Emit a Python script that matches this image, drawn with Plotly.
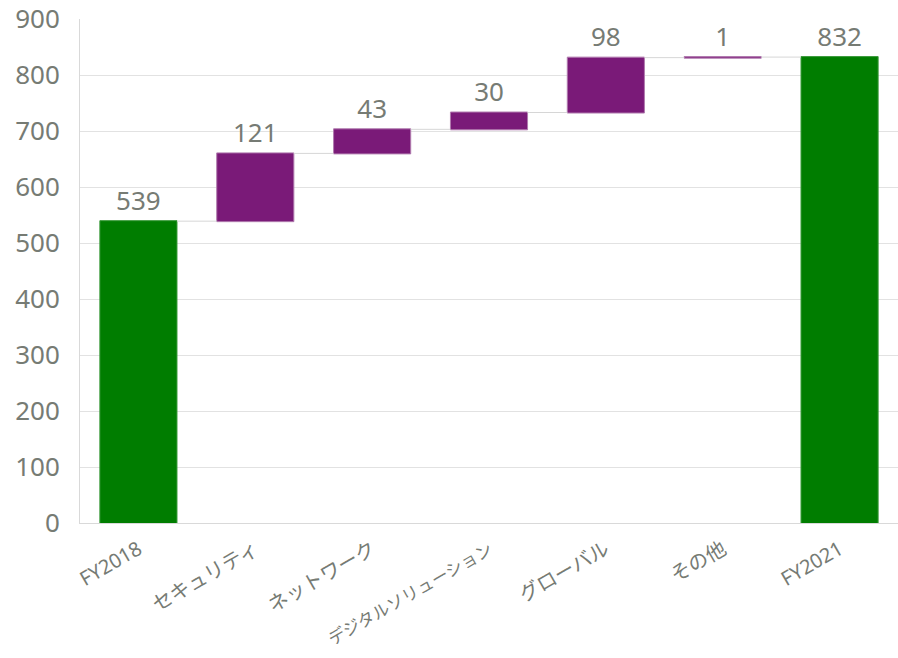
import plotly.graph_objects as go

categories = ["FY2018", "セキュリティ", "ネットワーク", "デジタルソリューション", "グローバル", "その他", "FY2021"]
values = [539, 121, 43, 30, 98, 1, 832]
measures = ["absolute", "relative", "relative", "relative", "relative", "relative", "total"]
labels = ["539", "121", "43", "30", "98", "1", "832"]

FONT = "Noto Sans, Noto Sans CJK JP, sans-serif"
GRAY = "#767b74"

# shrink only the longest category label so it fits in the bottom margin
ticktext = [c if len(c) < 10 else f"<span style='font-size:17px'>{c}</span>" for c in categories]

fig = go.Figure(go.Waterfall(
    x=categories,
    y=values,
    measure=measures,
    text=labels,
    textposition="outside",
    textfont=dict(size=26, color=GRAY, family=FONT),
    increasing=dict(marker=dict(color="#7a1a78", line=dict(color="#b07aae", width=1))),
    decreasing=dict(marker=dict(color="#7a1a78")),
    totals=dict(marker=dict(color="#007d00", line=dict(color="#3a9a3a", width=1))),
    connector=dict(line=dict(color="#d6d6d6", width=1)),
    cliponaxis=False,
))

fig.update_layout(
    width=898, height=658,
    margin=dict(l=80, r=0, t=19, b=135),
    plot_bgcolor="white", paper_bgcolor="white",
    showlegend=False,
    waterfallgap=0.34,
    font=dict(family=FONT, color=GRAY),
    yaxis=dict(range=[0, 900], dtick=100, showgrid=True, gridcolor="#e2e2e2", gridwidth=1,
               showline=True, linecolor="#d9d9d9", linewidth=1, zeroline=False, automargin=False,
               tickfont=dict(size=26, color=GRAY, family=FONT), ticks="", ticklabelstandoff=14),
    xaxis=dict(showline=True, linecolor="#d9d9d9", linewidth=1, tickangle=-30, automargin=False,
               tickmode="array", tickvals=categories, ticktext=ticktext,
               tickfont=dict(size=20, color=GRAY, family=FONT), ticks="", ticklabelstandoff=6),
)

fig.write_html("out.html")
